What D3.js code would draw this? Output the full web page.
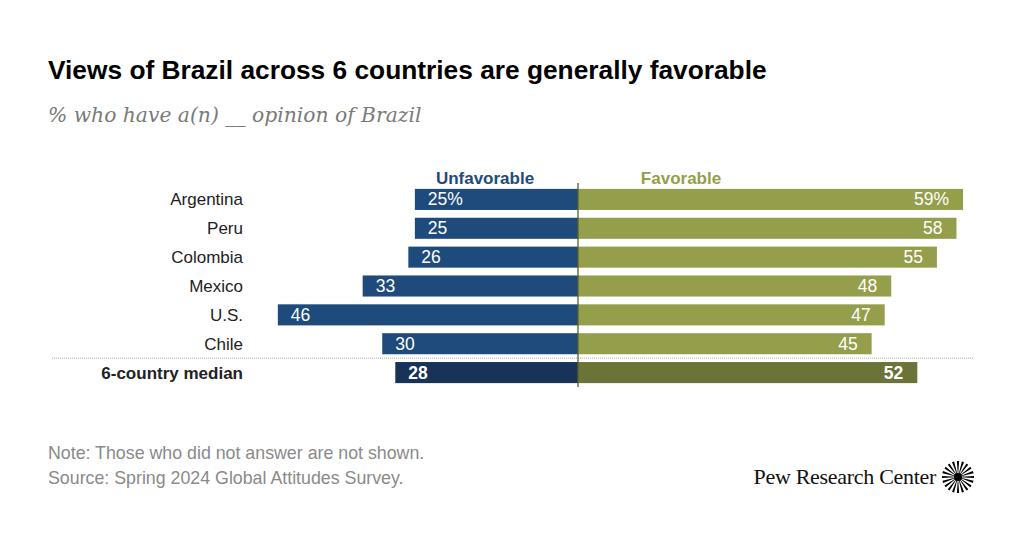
<!DOCTYPE html>
<html><head><meta charset="utf-8">
<script src="https://cdn.jsdelivr.net/npm/d3@7"></script>
<style>body{margin:0;background:#fff}svg{display:block}</style>
</head><body>
<svg id="c" width="1024" height="536"></svg>
<script>
const countries = ["Argentina","Peru","Colombia","Mexico","U.S.","Chile","6-country median"];
const unfavorable = [25,25,26,33,46,30,28];
const favorable = [59,58,55,48,47,45,52];
const seriesNames = ["Unfavorable","Favorable"];

const svg = d3.select("#c");
const W=1024,H=536;
const SANS = "Liberation Sans, Arial, sans-serif";
svg.append("rect").attr("width",W).attr("height",H).attr("fill","#fff");

// title
svg.append("text").attr("x",48).attr("y",79).text("Views of Brazil across 6 countries are generally favorable")
  .attr("font-family",SANS).attr("font-weight","bold").attr("font-size",26.3).attr("fill","#000");
svg.append("text").attr("x",48).attr("y",122).text("% who have a(n) __ opinion of Brazil")
  .attr("font-family","DejaVu Serif, Georgia, serif").attr("font-style","italic").attr("font-size",20.3).attr("fill","#7a7a7a");

const cx = 578;
const x = d3.scaleLinear().domain([0,59]).range([0,385]);
const y = d3.scaleBand().domain(countries).range([186,386]).paddingInner(0.27).paddingOuter(0.1);
const bh = y.bandwidth();
const isMed = d => d === "6-country median";

const colU="#1e4a7c", colF="#959e4b", colUM="#173358", colFM="#6b7339";

const yy = d => y(d);

// dotted separator
const sepY = (y("Chile")+bh + y("6-country median"))/2;
svg.append("line").attr("x1",52).attr("x2",973).attr("y1",sepY).attr("y2",sepY)
  .attr("stroke","#aaa").attr("stroke-width",1).attr("stroke-dasharray","1,1");

const g = svg.append("g");
countries.forEach((c,i)=>{
  const m = isMed(c);
  const wu = x(unfavorable[i]), wf = x(favorable[i]);
  g.append("rect").attr("x",cx-wu).attr("y",yy(c)).attr("width",wu).attr("height",bh).attr("fill",m?colUM:colU);
  g.append("rect").attr("x",cx).attr("y",yy(c)).attr("width",wf).attr("height",bh).attr("fill",m?colFM:colF);
  const ty = yy(c)+bh/2+6;
  g.append("text").attr("x",cx-wu+13).attr("y",ty).text(unfavorable[i]+(i===0?"%":""))
    .attr("font-family",SANS).attr("font-size",17.5).attr("fill","#fff").attr("font-weight",m?"bold":"normal");
  g.append("text").attr("x",cx+wf-14).attr("y",ty).attr("text-anchor","end").text(favorable[i]+(i===0?"%":""))
    .attr("font-family",SANS).attr("font-size",17.5).attr("fill","#fff").attr("font-weight",m?"bold":"normal");
  g.append("text").attr("x",243).attr("y",ty).attr("text-anchor","end").text(c)
    .attr("font-family",SANS).attr("font-size",17).attr("fill","#222").attr("font-weight",m?"bold":"normal");
});

// center line
svg.append("line").attr("x1",cx).attr("x2",cx).attr("y1",y("Argentina")-6).attr("y2",yy("6-country median")+bh+4)
  .attr("stroke","#55602a").attr("stroke-width",1.3);

// series headers
svg.append("text").attr("x",485).attr("y",184).attr("text-anchor","middle").text(seriesNames[0])
  .attr("font-family",SANS).attr("font-weight","bold").attr("font-size",17).attr("fill",colU);
svg.append("text").attr("x",681).attr("y",184).attr("text-anchor","middle").text(seriesNames[1])
  .attr("font-family",SANS).attr("font-weight","bold").attr("font-size",17).attr("fill",colF);

// notes
svg.append("text").attr("x",48).attr("y",459).text("Note: Those who did not answer are not shown.")
  .attr("font-family",SANS).attr("font-size",17.8).attr("fill","#8a8a8a");
svg.append("text").attr("x",48).attr("y",484).text("Source: Spring 2024 Global Attitudes Survey.")
  .attr("font-family",SANS).attr("font-size",17.8).attr("fill","#8a8a8a");

// logo
svg.append("text").attr("x",936).attr("y",484).attr("text-anchor","end").text("Pew Research Center")
  .attr("font-family","Liberation Serif, Times New Roman, serif").attr("font-size",22).attr("fill","#111").attr("letter-spacing",-0.3);
const lg = svg.append("g").attr("transform","translate(958,477)");
const nSp = 20;
const wedge = d3.arc().innerRadius(2).outerRadius(16);
d3.range(nSp).forEach(k=>{
  const a0 = k/nSp*2*Math.PI;
  lg.append("path").attr("d",wedge({startAngle:a0-0.07,endAngle:a0+0.07})).attr("fill","#000");
});
lg.append("circle").attr("r",4).attr("fill","#000");
</script>
</body></html>
